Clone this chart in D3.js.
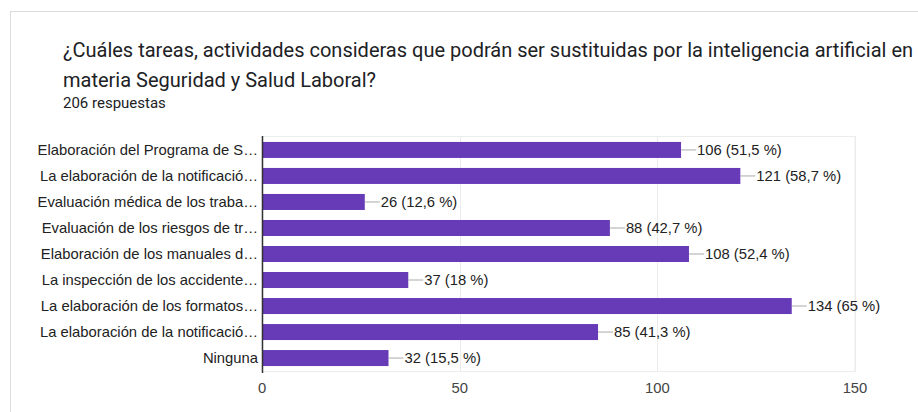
<!DOCTYPE html>
<html>
<head>
<meta charset="utf-8">
<script src="https://cdn.jsdelivr.net/npm/d3@7"></script>
<style>
  body { margin: 0; background: #fff; }
  svg { display: block; }
</style>
</head>
<body>
<svg width="918" height="412"></svg>
<script>
// categories (truncated the way the form summary shows them)
const categories = [
  'Elaboración del Programa de S…',
  'La elaboración de la notificació…',
  'Evaluación médica de los traba…',
  'Evaluación de los riesgos de tr…',
  'Elaboración de los manuales d…',
  'La inspección de los accidente…',
  'La elaboración de los formatos…',
  'La elaboración de la notificació…',
  'Ninguna'
]
const counts = [106, 121, 26, 88, 108, 37, 134, 85, 32]
const percents = ['51,5', '58,7', '12,6', '42,7', '52,4', '18', '65', '41,3', '15,5']
const ticks = [0, 50, 100, 150]
const titleLines = [
  '¿Cuáles tareas, actividades consideras que podrán ser sustituidas por la inteligencia artificial en',
  'materia Seguridad y Salud Laboral?'
]
const subtitle = '206 respuestas'

const svg = d3.select('svg')

// card outline
svg.append('rect')
  .attr('x', 10.5).attr('y', 11.5)
  .attr('width', 930).attr('height', 420)
  .attr('fill', '#fff').attr('stroke', '#dadce0')

// title
svg.selectAll('text.title')
  .data(titleLines)
  .enter().append('text')
    .attr('class', 'title')
    .attr('x', 63)
    .attr('y', (d, i) => 57 + i * 30)
    .style('font-family', 'Roboto, sans-serif')
    .style('font-size', '20px')
    .style('fill', '#202124')
    .text(d => d)

svg.append('text')
  .attr('x', 63).attr('y', 108)
  .style('font-family', 'Roboto, sans-serif')
  .style('font-size', '15px')
  .style('fill', '#202124')
  .text(subtitle)

const x = d3.scaleLinear().domain([0, 150]).range([262, 855])
const y = d3.scaleBand().domain(d3.range(categories.length)).range([137, 371]).paddingInner(0.385).paddingOuter(0.19)

const g = svg.append('g')
const font = 'Arial, "Liberation Sans", sans-serif'
const fs = '14.8px'

// plot frame + gridlines
g.append('rect')
  .attr('x', x(0)).attr('y', 136.5)
  .attr('width', x(150) - x(0)).attr('height', 235)
  .attr('fill', 'none').attr('stroke', '#ececec')

g.selectAll('line.grid')
  .data(ticks.slice(1))
  .enter().append('line')
    .attr('class', 'grid')
    .attr('x1', d => Math.round(x(d)) + 0.5).attr('x2', d => Math.round(x(d)) + 0.5)
    .attr('y1', 136).attr('y2', 372)
    .attr('stroke', '#ebebeb')

// x tick labels
g.selectAll('text.tick')
  .data(ticks)
  .enter().append('text')
    .attr('class', 'tick')
    .attr('x', d => x(d))
    .attr('y', 393)
    .attr('text-anchor', 'middle')
    .style('font-family', font)
    .style('font-size', fs)
    .style('fill', '#444')
    .text(d => d)

// bars
g.selectAll('rect.bar')
  .data(counts)
  .enter().append('rect')
    .attr('class', 'bar')
    .attr('x', x(0))
    .attr('y', (d, i) => y(i))
    .attr('width', d => x(d) - x(0))
    .attr('height', y.bandwidth())
    .attr('fill', '#673ab7')

// leader lines + value labels
g.selectAll('line.lead')
  .data(counts)
  .enter().append('line')
    .attr('class', 'lead')
    .attr('x1', d => x(d)).attr('x2', d => x(d) + 15)
    .attr('y1', (d, i) => y(i) + y.bandwidth() / 2)
    .attr('y2', (d, i) => y(i) + y.bandwidth() / 2)
    .attr('stroke', '#aaa')

g.selectAll('text.val')
  .data(counts)
  .enter().append('text')
    .attr('class', 'val')
    .attr('x', d => x(d) + 16)
    .attr('y', (d, i) => y(i) + y.bandwidth() / 2)
    .attr('dy', '0.35em')
    .style('font-family', font)
    .style('font-size', fs)
    .style('fill', '#222')
    .text((d, i) => d + ' (' + percents[i] + ' %)')

// category labels
g.selectAll('text.cat')
  .data(categories)
  .enter().append('text')
    .attr('class', 'cat')
    .attr('x', 258)
    .attr('y', (d, i) => y(i) + y.bandwidth() / 2)
    .attr('dy', '0.35em')
    .attr('text-anchor', 'end')
    .style('font-family', font)
    .style('font-size', fs)
    .style('fill', '#222')
    .text(d => d)

// baseline at zero
g.append('line')
  .attr('x1', x(0) + 0.5).attr('x2', x(0) + 0.5)
  .attr('y1', 136).attr('y2', 373)
  .attr('stroke', '#333').attr('stroke-width', 1.5)
</script>
</body>
</html>
